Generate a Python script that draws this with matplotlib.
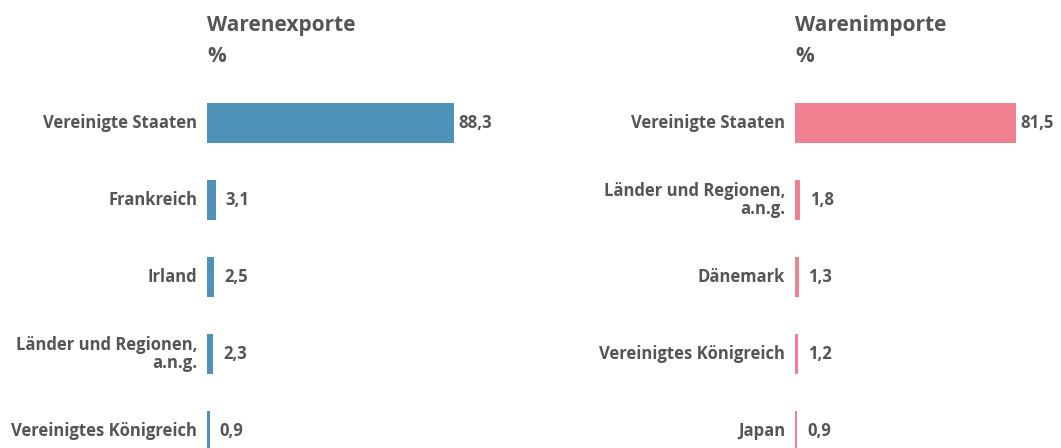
import matplotlib
matplotlib.use("Agg")
from matplotlib import pyplot as plt

exp_labels = ["Vereinigte Staaten", "Frankreich", "Irland",
              "Länder und Regionen,\na.n.g.", "Vereinigtes Königreich"]
exp_values = [88.3, 3.1, 2.5, 2.3, 0.9]
imp_labels = ["Vereinigte Staaten", "Länder und Regionen,\na.n.g.", "Dänemark",
              "Vereinigtes Königreich", "Japan"]
imp_values = [81.5, 1.8, 1.3, 1.2, 0.9]

W, H = 1061, 448
txt = "#555555"
plt.rcParams['font.family'] = ['Open Sans', 'DejaVu Sans']

fig = plt.figure(figsize=(W / 100, H / 100), dpi=100)


def panel(x0, px_per_unit, labels, values, color, title):
    width_px = 100 * px_per_unit
    ax = fig.add_axes([x0 / W, 0, width_px / W, 1])
    ax.set_xlim(0, 100)
    ax.set_ylim(325 / 77, -(H - 325) / 77)
    ys = list(range(len(values)))
    ax.barh(ys, values, height=0.52, color=color)
    for y, v, lab in zip(ys, values, labels):
        ax.annotate(lab, (0, y), xytext=(-10, 0), textcoords='offset pixels',
                    ha='right', va='center', fontsize=12, fontweight='bold',
                    color=txt, linespacing=1.0)
        gap = 4 if v > 50 else 10
        ax.annotate(f"{v:.1f}".replace('.', ','), (v, y), xytext=(gap, 0),
                    textcoords='offset pixels', ha='left', va='center',
                    fontsize=12, fontweight='bold', color=txt)
    ax.text(0, 1 - 25 / H, title, transform=ax.transAxes, ha='left', va='center',
            fontsize=15, fontweight='bold', color=txt)
    ax.text(0, 1 - 57 / H, "%", transform=ax.transAxes, ha='left', va='center',
            fontsize=15, fontweight='bold', color=txt)
    ax.axis('off')


panel(207, 247 / 88.3, exp_labels, exp_values, "#4E92B8", "Warenexporte")
panel(795, 221 / 81.5, imp_labels, imp_values, "#F08191", "Warenimporte")

fig.savefig("out.png", dpi=100)
